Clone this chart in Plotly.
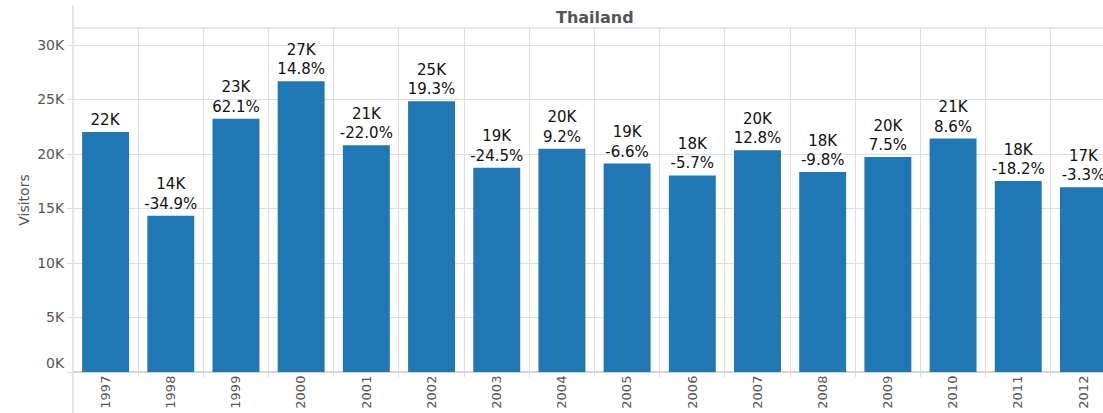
import plotly.graph_objects as go

# Annual visitors from Thailand
years = ["1997", "1998", "1999", "2000", "2001", "2002", "2003", "2004",
         "2005", "2006", "2007", "2008", "2009", "2010", "2011", "2012"]
visitors = [22026, 14339, 23243, 26683, 20813, 24830, 18747, 20472,
            19121, 18031, 20339, 18346, 19722, 21418, 17520, 16942]

y_tick_vals = [0, 5000, 10000, 15000, 20000, 25000, 30000]
y_tick_text = ["0K", "5K", "10K", "15K", "20K", "25K", "30K"]

# Bar labels: rounded thousands plus year-over-year change
labels = []
for i, v in enumerate(visitors):
    txt = f"{round(v / 1000)}K"
    if i > 0:
        pct = (v / visitors[i - 1] - 1) * 100
        txt += f"<br>{pct:.1f}%"
    labels.append(txt)

GRID = "#dedede"
FONT = "DejaVu Sans, Verdana, sans-serif"
TICK_GREY = "#555555"

fig = go.Figure(
    go.Bar(
        x=years,
        y=visitors,
        text=labels,
        textposition="outside",
        constraintext="none",
        textfont=dict(size=15, color="#111111", family=FONT),
        marker=dict(color="#1f77b4", line=dict(width=0)),
        cliponaxis=False,
    )
)

fig.update_layout(
    width=1103,
    height=413,
    margin=dict(l=73, r=0, t=28, b=41),
    paper_bgcolor="white",
    plot_bgcolor="white",
    bargap=0.28,
    showlegend=False,
    font=dict(family=FONT, color=TICK_GREY),
)

fig.update_xaxes(
    type="category",
    range=[-0.5, 15.3],
    tickson="boundaries",
    ticks="outside",
    ticklen=4,
    tickcolor=GRID,
    tickangle=-90,
    tickfont=dict(size=13, color=TICK_GREY),
    showgrid=True,
    gridcolor=GRID,
    gridwidth=1,
)

# The lowest tick label sits a little above its gridline, clear of the x axis
fig.update_yaxes(
    range=[0, 31560],
    tickvals=y_tick_vals,
    ticktext=[""] + y_tick_text[1:],
    ticks="outside",
    ticklen=5,
    tickcolor=GRID,
    tickfont=dict(size=14, color=TICK_GREY),
    showgrid=True,
    gridcolor=GRID,
    zeroline=True,
    zerolinecolor="#d4d4d4",
    zerolinewidth=2,
    title=dict(text="Visitors", font=dict(size=14, color=TICK_GREY), standoff=4),
)
fig.add_annotation(
    text=y_tick_text[0],
    xref="paper", yref="y",
    x=0, y=y_tick_vals[0],
    xanchor="right", yanchor="middle",
    xshift=-6, yshift=9,
    showarrow=False,
    font=dict(size=14, color=TICK_GREY, family=FONT),
)

# Facet strip: top border and left edge line
fig.add_shape(type="line", xref="paper", yref="paper", x0=0, x1=1, y0=1, y1=1,
              line=dict(color=GRID, width=1.5))
fig.add_shape(type="line", xref="paper", yref="paper", x0=0, x1=0, y0=-0.13, y1=1.067,
              line=dict(color=GRID, width=1.5))

fig.add_annotation(
    text="<b>Thailand</b>",
    xref="paper", yref="paper",
    x=0.5068, y=1.03,
    xanchor="center", yanchor="middle",
    showarrow=False,
    font=dict(size=16, color=TICK_GREY, family=FONT),
)

fig.write_html("out.html")
